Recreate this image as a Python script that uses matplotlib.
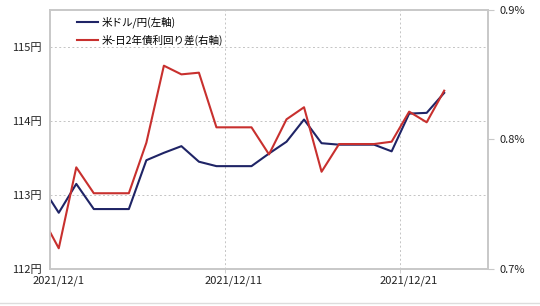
import matplotlib
matplotlib.use("Agg")
import matplotlib.pyplot as plt
import matplotlib.dates as mdates
from matplotlib.lines import Line2D
import numpy as np

plt.rcParams['font.family'] = ['Noto Sans CJK JP', 'DejaVu Sans']

# daily values, 2021/11/30 .. 2021/12/23 (weekends carry Friday's value)
dates = np.arange('2021-11-30', '2021-12-24', dtype='datetime64[D]')
usdjpy = [113.13, 112.76, 113.15, 112.81, 112.81, 112.81,
          113.47, 113.57, 113.66, 113.45, 113.39, 113.39, 113.39,
          113.56, 113.72, 114.02, 113.70, 113.68, 113.68, 113.68,
          113.59, 114.10, 114.11, 114.38]
spread = [0.7412, 0.716, 0.7785, 0.7585, 0.7585, 0.7585,
          0.7975, 0.857, 0.8503, 0.8516, 0.8094, 0.8094, 0.8094,
          0.7885, 0.8156, 0.8249, 0.7751, 0.7965, 0.7965, 0.7965,
          0.7983, 0.8215, 0.8133, 0.8377]

left_ticks = [112, 113, 114, 115]
right_ticks = [0.7, 0.8, 0.9]
date_ticks = ['2021-12-01', '2021-12-11', '2021-12-21']
labels = ['米ドル/円(左軸)', '米-日2年債利回り差(右軸)']

blue = '#1f2466'
red = '#c8302e'
edge = '#c8c8c8'
grid = dict(ls=(0, (2, 2.5)), color='#c4c4c4', lw=0.7)

fig = plt.figure(figsize=(5.4, 3.06), dpi=100)
ax = fig.add_axes([50/540, 1-269/306, 438/540, 259/306])
ax2 = ax.twinx()

x = mdates.date2num(dates)
ax.plot(x, usdjpy, color=blue, lw=1.5)
ax2.plot(x, spread, color=red, lw=1.5)

xt = mdates.date2num(np.array(date_ticks, dtype='datetime64[D]'))
ax.set_xlim(xt[0] - 0.5, xt[0] + 24.5)
ax.set_xticks(xt)
ax.set_xticklabels([d.replace('-', '/').replace('/0', '/') for d in date_ticks])
ax.set_xticks(xt[1:] - 0.5, minor=True)
ax.tick_params(axis='x', which='major', length=0, labelsize=8, pad=5, colors='#222222')
ax.tick_params(axis='x', which='minor', length=3, color=edge)
ax.grid(True, axis='x', which='minor', **grid)

ax.set_ylim(112, 115.5)
ax.set_yticks(left_ticks)
ax.set_yticklabels([f'{v}円' for v in left_ticks])
ax.tick_params(axis='y', length=0, labelsize=8, pad=6, colors='#222222')
ax.grid(True, axis='y', **grid)

ax2.set_ylim(0.7, 0.9)
ax2.set_yticks(right_ticks)
ax2.set_yticklabels([f'{v:.1f}%' for v in right_ticks])
ax2.tick_params(axis='y', length=4, labelsize=8, pad=4, colors='#222222')
ax2.tick_params(axis='y', color=edge)

for a in (ax, ax2):
    for s in a.spines.values():
        s.set_color(edge)
        s.set_linewidth(1.2)

handles = [Line2D([], [], color=blue, lw=1.5), Line2D([], [], color=red, lw=1.5)]
ax2.legend(handles, labels, loc='upper left', bbox_to_anchor=(0.047, 1.0),
           frameon=False, fontsize=7.6, handlelength=1.9, handletextpad=0.4,
           labelspacing=0.6, borderaxespad=0.25)

fig.add_artist(Line2D([0, 1], [1-303/306, 1-303/306], color='#dddddd', lw=1))

fig.savefig('out.png', dpi=100)
